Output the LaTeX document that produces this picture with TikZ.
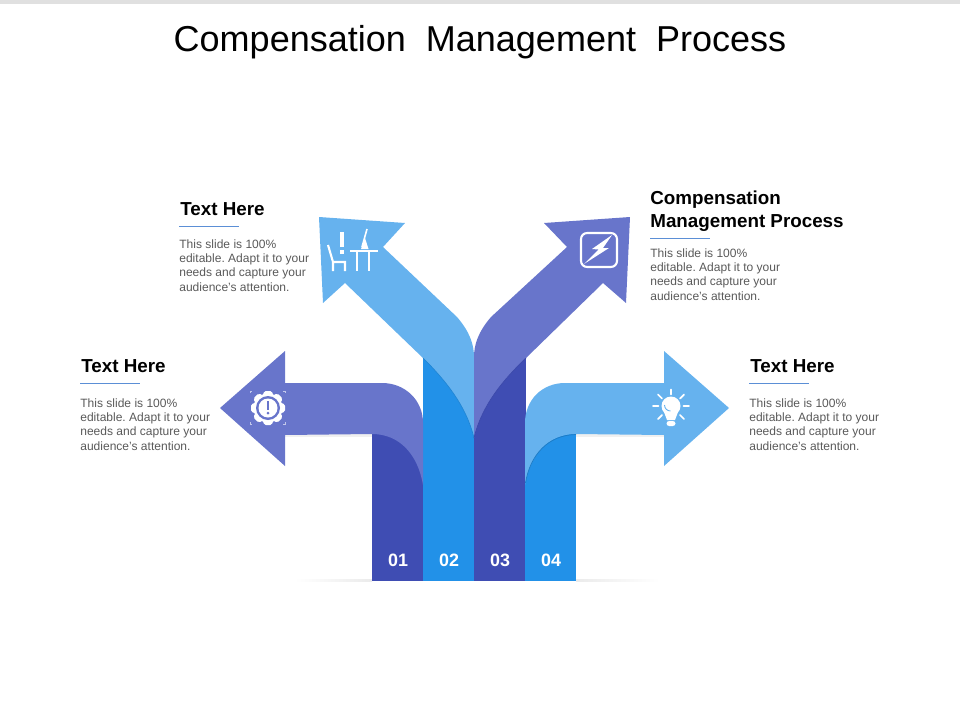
\documentclass[tikz,border=0pt]{standalone}
\usepackage{fontspec}
\setmainfont{Liberation Sans}
\usepackage{xcolor}
\definecolor{lightarrow}{HTML}{66B2EE}
\definecolor{midarrow}{HTML}{6875CB}
\definecolor{darkbar}{HTML}{3F4DB3}
\definecolor{bluebar}{HTML}{2291E8}
\definecolor{bodygray}{HTML}{595959}
\definecolor{rulecol}{HTML}{5B8FD6}
\tikzset{
  headtext/.style={anchor=west,inner sep=0pt,font=\fontsize{10.7}{13}\selectfont\bfseries,align=left},
  bodytext/.style={anchor=north west,inner sep=0pt,text=bodygray,font=\fontsize{6.85}{8.15}\selectfont\frenchspacing,align=left},
  numtext/.style={inner sep=0pt,text=white,font=\fontsize{10.2}{12}\selectfont\bfseries},
  iconline/.style={white,line width=1.2pt},
  softshadow/.style={fill=black!6,draw=none},
}
\begin{document}
\begin{tikzpicture}[x=0.02cm,y=-0.02cm]
\useasboundingbox (0,0) rectangle (960,720);
\fill[black!12] (0,0) rectangle (960,4);

\node[inner sep=0pt,font=\fontsize{20.5}{24}\selectfont] (title) at (480,42) {Compensation\ \ Management\ \ Process};

% base line under the bars
\shade[left color=white,right color=black!8] (295,579.5) rectangle (372,581.5);
\shade[left color=black!8,right color=white] (576,579.5) rectangle (660,581.5);

% bars
\fill[darkbar] (372,434) rectangle (423,581);
\fill[bluebar] (423,358) rectangle (474,581);
\fill[darkbar] (474,358) rectangle (525.5,581);
\fill[bluebar] (525,434) rectangle (576,581);

% soft shadows under the arrows
\path[softshadow] (285,436.5) rectangle (372,434);
\path[softshadow] (576,436.5) rectangle (664,434);

% arrow 1, left
\fill[midarrow] (220,408) -- (285,351) -- (285,383) -- (382,383)
  .. controls (405,383) and (423,400) .. (423,423) -- (423,485)
  .. controls (418,455) and (400,434) .. (372,434) -- (285,435) -- (285,466) -- cycle;
% arrow 2, up left
\fill[lightarrow] (319,217) -- (405,223) -- (383,247) -- (457,317)
  .. controls (470,332) and (474,345) .. (474,357) -- (474,438)
  .. controls (466,405) and (445,380) .. (423,358) -- (345,283) -- (323,303) -- cycle;
% arrow 3, up right
\fill[midarrow] (630,217) -- (544,223) -- (567,247) -- (491,317)
  .. controls (478,332) and (474,345) .. (474,357) -- (474,438)
  .. controls (482,405) and (503,380) .. (526,358) -- (603,283) -- (626,303) -- cycle;
% arrow 4, right
\fill[lightarrow] (729,408) -- (664,351) -- (664,383) -- (565,383)
  .. controls (542,383) and (525,400) .. (525,423) -- (525,485)
  .. controls (530,455) and (548,434) .. (576,434) -- (664,435) -- (664,466) -- cycle;

% darker rims on the bars
\draw[bluebar!85!black,line width=0.4pt] (525.5,483) .. controls (530,455) and (548,435) .. (576,434.5);
\draw[bluebar!92!black,line width=0.4pt] (423,358) .. controls (445,380) and (466,405) .. (474,438);
\draw[darkbar!95!black,line width=0.4pt] (526,358) .. controls (503,380) and (482,405) .. (474,438);

\node[numtext] (num1) at (398,560) {01};
\node[numtext] (num2) at (449,560) {02};
\node[numtext] (num3) at (500,560) {03};
\node[numtext] (num4) at (551,560) {04};

% gear icon
\fill[white] (268,408) circle (14.5);
\foreach \a in {0,45,...,315}
  \fill[white,rounded corners=1,rotate around={\a:(268,408)}] (262.5,397) -- (264,391) -- (272,391) -- (273.5,397) -- cycle;
\fill[midarrow] (268,408) circle (12);
\fill[white] (268,408) circle (9.5);
\fill[midarrow] (266.6,401) rectangle (269.4,410);
\fill[midarrow] (268,413) circle (1.5);
\draw[white,opacity=0.6,line width=0.3pt] (250,393) -- (250,391) -- (252,391) (283,391) -- (285,391) -- (285,393)
  (250,422) -- (250,424) -- (252,424) (283,424) -- (285,424) -- (285,422);

% chair and table icon
\draw[iconline] (328,245) -- (333,262) -- (346,262) (333,262) -- (333,271) (345,262) -- (345,271);
\draw[white,line width=2.2pt] (342,232) -- (342,247) (342,250) -- (342,253.5);
\draw[iconline] (350,251) -- (378,251) (357,251) -- (357,271) (369,251) -- (369,271);
\draw[white,line width=0.9pt] (367,229) -- (362,247);
\fill[white] (365,238) -- (368.5,249) -- (361,249) -- cycle;

% bolt icon
\draw[white,line width=1.2pt,rounded corners=3.5] (581,233) rectangle (617,267);
\fill[white] (612,235) -- (592,249) -- (598.5,249.5) -- (584,264) -- (609,248) -- (603,248) -- cycle;

% bulb icon
\fill[white] (671,406) circle (9.5);
\fill[white] (664,412) -- (678,412) -- (675,420) -- (667,420) -- cycle;
\fill[white,rounded corners=1.5] (666.5,421) rectangle (675.5,426);
\draw[lightarrow,line width=0.5pt] (664.5,405) arc (180:90:6);
\draw[iconline,line width=1pt,line cap=round] (671,389.5) -- (671,394.5) (653,406) -- (658.5,406) (683.5,406) -- (689,406)
  (658,394.5) -- (662,398.5) (684,394.5) -- (680,398.5) (658,419) -- (662,415) (684,419) -- (680,415);

% texts
\node[headtext] (head1) at (180,209.5) {Text Here};
\draw[rulecol,line width=0.4pt] (179,226) -- (239,226);
\node[bodytext] (body1) at (179,239) {This slide is 100\%\\editable. Adapt it to your\\needs and capture your\\audience's attention.};

\node[headtext] (head2) at (81,366.5) {Text Here};
\draw[rulecol,line width=0.4pt] (80,383) -- (140,383);
\node[bodytext] (body2) at (80,398) {This slide is 100\%\\editable. Adapt it to your\\needs and capture your\\audience's attention.};

\node[headtext,anchor=north west] (head3) at (650,190.5) {Compensation\\Management Process};
\draw[rulecol,line width=0.4pt] (650,238) -- (710,238);
\node[bodytext] (body3) at (650,248) {This slide is 100\%\\editable. Adapt it to your\\needs and capture your\\audience's attention.};

\node[headtext] (head4) at (750,366.5) {Text Here};
\draw[rulecol,line width=0.4pt] (749,383) -- (809,383);
\node[bodytext] (body4) at (749,398) {This slide is 100\%\\editable. Adapt it to your\\needs and capture your\\audience's attention.};
\end{tikzpicture}
\end{document}
